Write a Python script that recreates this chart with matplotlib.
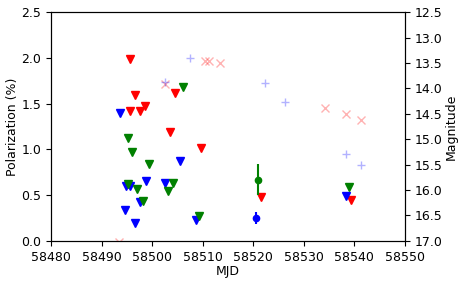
import matplotlib
matplotlib.use('Agg')
import matplotlib.pyplot as plt
import numpy as np

plt.rcParams['font.size'] = 9

# upper limits on polarization (triangles)
r_mjd = [58495.6, 58496.6, 58495.7, 58497.6, 58498.6, 58504.55, 58503.6, 58509.7, 58521.6, 58539.4]
r_pol = [1.985, 1.60, 1.42, 1.42, 1.47, 1.62, 1.19, 1.01, 0.48, 0.45]

b_mjd = [58493.7, 58505.5, 58494.85, 58495.6, 58498.8, 58502.6, 58497.6, 58494.7, 58496.6, 58508.65, 58538.4]
b_pol = [1.40, 0.87, 0.60, 0.60, 0.65, 0.63, 0.43, 0.34, 0.19, 0.23, 0.49]

g_mjd = [58506.1, 58495.2, 58496.1, 58499.3, 58495.2, 58497.1, 58498.2, 58504.1, 58503.1, 58509.2, 58538.9]
g_pol = [1.68, 1.12, 0.97, 0.84, 0.62, 0.57, 0.44, 0.63, 0.54, 0.27, 0.59]

# detections
bd_mjd = [58520.5]
bd_pol = [0.25]
bd_err = [0.065]

gd_mjd = [58521.05]
gd_pol = [0.67]
gd_err = [0.165]

# magnitudes (right axis)
rm_mjd = [58502.6, 58510.4, 58511.35, 58513.5, 58493.5, 58534.3, 58538.3, 58541.3]
rm_mag = [13.91, 13.46, 13.46, 13.49, 17.02, 14.38, 14.50, 14.63]

bm_mjd = [58507.5, 58502.5, 58522.4, 58526.4, 58538.3, 58541.3]
bm_mag = [13.41, 13.87, 13.89, 14.26, 15.29, 15.51]

fig = plt.figure(figsize=(4.64, 2.85), dpi=100)
ax = fig.add_axes([0.11, 0.155, 0.762, 0.802])

ms = 5.2
ax.plot(r_mjd, r_pol, 'v', color='red', ms=ms)
ax.plot(b_mjd, b_pol, 'v', color='blue', ms=ms)
ax.plot(g_mjd, g_pol, 'v', color='green', ms=ms)
ax.errorbar(bd_mjd, bd_pol, yerr=bd_err, fmt='o', color='blue', ms=4.5)
ax.errorbar(gd_mjd, gd_pol, yerr=gd_err, fmt='o', color='green', ms=4.5)

ax.set_xlim(58480, 58550)
ax.set_ylim(0, 2.5)
ax.set_xlabel('MJD', labelpad=1)
ax.set_ylabel('Polarization (%)', labelpad=1.5)

ax2 = ax.twinx()
ax2.plot(rm_mjd, rm_mag, 'x', color='red', alpha=0.3, ms=ms)
ax2.plot(bm_mjd, bm_mag, '+', color='blue', alpha=0.3, ms=ms)
ax2.set_ylim(17.0, 12.5)
ax2.set_yticks(np.arange(12.5, 17.01, 0.5))
ax2.set_ylabel('Magnitude', labelpad=1.5)

fig.savefig('out.png', dpi=100)
